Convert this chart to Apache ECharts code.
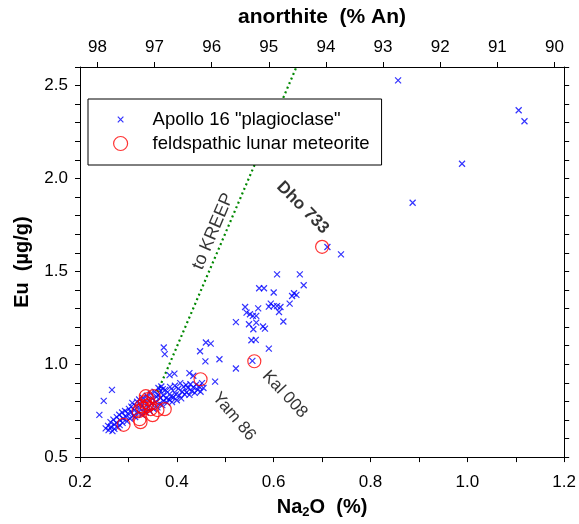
<!DOCTYPE html>
<html><head><meta charset="utf-8">
<script src="https://cdn.jsdelivr.net/npm/echarts@6/dist/echarts.min.js"></script>
<style>html,body{margin:0;padding:0;background:#fff}#c{width:579px;height:524px}</style>
</head><body><div id="c"></div>
<script>
// Apollo 16 "plagioclase": [Na2O %, Eu ug/g]
const apollo16 = [
 [0.857,2.528],[1.106,2.367],[1.118,2.308],[0.989,2.079],[0.887,1.869],[0.711,1.631],[0.739,1.591],[0.654,1.484],
 [0.607,1.484],[0.662,1.425],[0.570,1.409],[0.580,1.409],[0.600,1.386],[0.642,1.382],[0.647,1.373],[0.638,1.367],
 [0.633,1.326],[0.594,1.326],[0.600,1.313],[0.590,1.310],[0.607,1.313],[0.614,1.308],[0.611,1.281],[0.541,1.308],
 [0.568,1.301],[0.544,1.278],[0.551,1.269],[0.557,1.260],[0.564,1.260],[0.620,1.230],[0.522,1.227],[0.549,1.215],
 [0.564,1.224],[0.578,1.203],[0.582,1.192],[0.558,1.188],[0.554,1.129],[0.563,1.131],[0.590,1.084],[0.556,1.018],
 [0.522,0.977],[0.488,1.027],
 [0.373,1.090],[0.375,1.054],[0.448,1.070],[0.460,1.117],[0.470,1.111],[0.459,1.015],[0.479,0.906],[0.385,0.941],
 [0.395,0.949],[0.426,0.952],[0.434,0.938],[0.266,0.862],[0.249,0.803],[0.240,0.727],
 [0.253,0.655],[0.258,0.668],[0.259,0.645],[0.263,0.688],[0.264,0.662],[0.267,0.640],[0.269,0.702],[0.271,0.675],
 [0.271,0.652],[0.276,0.715],[0.275,0.684],[0.279,0.660],[0.281,0.728],[0.283,0.698],[0.282,0.672],[0.287,0.740],
 [0.289,0.708],[0.288,0.684],[0.293,0.748],[0.295,0.716],[0.297,0.692],[0.299,0.735],
 [0.301,0.760],[0.303,0.708],[0.306,0.772],[0.305,0.742],[0.310,0.722],[0.308,0.792],[0.312,0.752],[0.315,0.775],
 [0.314,0.716],[0.318,0.798],[0.320,0.740],[0.322,0.810],[0.324,0.762],[0.326,0.785],[0.328,0.728],[0.330,0.818],
 [0.332,0.762],[0.334,0.795],[0.336,0.740],[0.338,0.830],[0.340,0.770],[0.342,0.805],[0.344,0.748],[0.346,0.842],
 [0.348,0.786],[0.350,0.815],[0.352,0.758],[0.354,0.852],[0.356,0.797],[0.358,0.825],[0.360,0.768],
 [0.362,0.835],[0.364,0.788],[0.366,0.818],[0.366,0.858],[0.370,0.780],[0.372,0.833],[0.373,0.802],[0.376,0.862],
 [0.378,0.818],[0.380,0.792],[0.381,0.850],[0.384,0.810],[0.386,0.878],[0.388,0.826],[0.390,0.796],[0.392,0.858],
 [0.393,0.822],[0.396,0.884],[0.398,0.838],[0.400,0.806],[0.403,0.868],[0.405,0.832],[0.407,0.898],[0.409,0.816],
 [0.411,0.852],[0.414,0.878],[0.416,0.838],[0.419,0.888],[0.362,0.872],[0.368,0.880],[0.371,0.866],
 [0.420,0.848],[0.423,0.872],[0.426,0.835],[0.428,0.892],[0.431,0.856],[0.434,0.876],[0.437,0.846],[0.440,0.890],
 [0.443,0.862],[0.446,0.880],[0.449,0.852],[0.452,0.898],[0.455,0.872]
];
// feldspathic lunar meteorites: [Na2O %, Eu ug/g]
const meteorites = [
 [0.290,0.674],[0.323,0.704],[0.325,0.688],[0.321,0.747],[0.327,0.774],[0.334,0.796],[0.340,0.812],[0.336,0.828],
 [0.352,0.828],[0.344,0.785],[0.346,0.758],[0.360,0.753],[0.375,0.758],[0.350,0.726],[0.331,0.763],[0.338,0.774],
 [0.449,0.919],[0.560,1.016],[0.700,1.632]
];
// mixing line toward KREEP
const kreepLine = [[0.360,0.850],[0.647,2.600]];
// upper axis: anorthite tick values
const anTicks = [98,97,96,95,94,93,92,91,90];
// text annotations
const annoLabels = ['to KREEP','Dho 733','Kal 008','Yam 86'];
const annoNa2O = [0.475,0.660,0.623,0.518];
const annoEu = [1.715,1.843,0.838,0.718];
const annoAngle = [67,-45,-47,-50];

const FF = '"Liberation Sans", Arial, sans-serif';
const crossPath = 'path://M-7.5,-7.5L-7.5,-7.5M0,0L10,10M10,0L0,10M17.5,17.5L17.5,17.5';

const annoData = annoLabels.map((t,i)=>({
  name:t, value:[annoNa2O[i], annoEu[i]],
  label:{rotate:annoAngle[i], fontWeight: t==='Dho 733' ? 'bold' : 'normal', fontSize: t==='to KREEP' ? 18 : 17}
}));

const chart = echarts.init(document.getElementById('c'), null, {renderer:'canvas'});
const axisLineStyle = {lineStyle:{color:'#000', width:1}};
chart.setOption({
  animation:false,
  backgroundColor:'#fff',
  textStyle:{fontFamily:FF},
  grid:{left:80, right:12, top:67, bottom:66, containLabel:false},
  legend:{
    orient:'vertical', left:88, top:99, padding:[11,12,12,25],
    itemWidth:54, itemHeight:14, itemGap:5,
    borderColor:'#000', borderWidth:1, backgroundColor:'#fff',
    textStyle:{fontSize:18.5, color:'#000', fontFamily:FF},
    itemStyle:{borderWidth:1.2},
    data:[{name:'Apollo 16 "plagioclase"', icon:crossPath},{name:'feldspathic lunar meteorite', icon:'circle'}]
  },
  xAxis:[{
    type:'value', position:'bottom', min:0.2, max:1.2, interval:0.1,
    axisLine:axisLineStyle, axisTick:{show:true, inside:false, length:5, lineStyle:{color:'#000'}},
    splitLine:{show:false},
    axisLabel:{fontSize:17, color:'#000', margin:17, fontFamily:FF,
      formatter:v=>{const k=Math.round(v*10);return k%2===0?(k/10).toFixed(1):'';}},
    name:'{b|Na}{s|2}{b|O  (%)}', nameLocation:'middle', nameGap:39,
    nameTextStyle:{rich:{
      b:{fontSize:20, fontWeight:'bold', color:'#000', fontFamily:FF, verticalAlign:'top', lineHeight:20},
      s:{fontSize:13, fontWeight:'bold', color:'#000', fontFamily:FF, lineHeight:13, padding:[10,0,0,0]}
    }}
  },{
    type:'value', position:'top', min:89.83, max:98.305, inverse:true,
    axisLine:axisLineStyle,
    axisTick:{show:true, inside:false, length:5, lineStyle:{color:'#000'}, customValues:anTicks},
    axisLabel:{fontSize:17, color:'#000', margin:11, fontFamily:FF, customValues:anTicks},
    splitLine:{show:false},
    name:'anorthite  (% An)', nameLocation:'middle', nameGap:39,
    nameTextStyle:{fontSize:21, fontWeight:'bold', color:'#000', fontFamily:FF}
  }],
  yAxis:[{
    type:'value', position:'left', min:0.5, max:2.6, interval:0.1,
    axisLine:axisLineStyle, axisTick:{show:true, inside:false, length:5, lineStyle:{color:'#000'}},
    splitLine:{show:false},
    axisLabel:{fontSize:17, color:'#000', margin:12, fontFamily:FF,
      formatter:v=>{const k=Math.round(v*10);return k%5===0?(k/10).toFixed(1):'';}},
    name:'Eu  (µg/g)', nameLocation:'middle', nameGap:48, nameRotate:90,
    nameTextStyle:{fontSize:20, fontWeight:'bold', color:'#000', fontFamily:FF}
  },{
    type:'value', position:'right', min:0.5, max:2.6, interval:0.1,
    axisLine:axisLineStyle, axisTick:{show:true, inside:false, length:5, lineStyle:{color:'#000'}},
    axisLabel:{show:false}, splitLine:{show:false}
  }],
  series:[
    {type:'line', name:'to KREEP', data:kreepLine, symbol:'none', silent:true, z:1,
     lineStyle:{color:'#008800', width:2.2, type:[2,3]}},
    {type:'scatter', name:'Apollo 16 "plagioclase"', data:apollo16, symbol:crossPath, symbolSize:15, z:2,
     itemStyle:{color:'rgba(0,0,0,0)', borderColor:'#0000ff', borderWidth:1.2}},
    {type:'scatter', name:'feldspathic lunar meteorite', data:meteorites, symbol:'circle', symbolSize:13, z:3,
     itemStyle:{color:'rgba(0,0,0,0)', borderColor:'#ff0000', borderWidth:1.2}},
    {type:'scatter', name:'labels', data:annoData, symbolSize:1, silent:true, z:4,
     itemStyle:{color:'rgba(0,0,0,0)'},
     label:{show:true, position:'inside', formatter:'{b}', color:'#000', fontFamily:FF}}
  ]
});
</script></body></html>
